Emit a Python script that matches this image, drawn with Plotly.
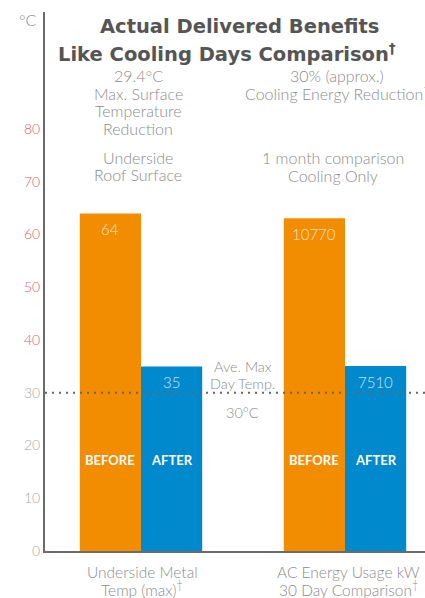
import plotly.graph_objects as go

# ---- data ----
categories = ["Underside Metal<br>Temp (max)<sup>†</sup>", "AC Energy Usage kW<br>30 Day Comparison<sup>†</sup>"]
phases = ["BEFORE", "AFTER"]
temp_values = [64, 35]          # °C, before / after
energy_values = [10770, 7510]   # kW, before / after
avg_max_day_temp = 30
y_ticks = [0, 10, 20, 30, 40, 50, 60, 70, 80]
red_ticks = [40, 50, 60, 70, 80]
title_lines = ["Actual Delivered Benefits", "Like Cooling Days Comparison<sup>†</sup>"]
temp_note = ["29.4°C", "Max. Surface", "Temperature", "Reduction"]
temp_sub = ["Underside", "Roof Surface"]
energy_note = ["30% (approx.)", "Cooling Energy Reduction<sup>†</sup>"]
energy_sub = ["1 month comparison", "Cooling Only"]
ref_note = ["Ave. Max", "Day Temp."]
ref_value = "30°C"

phase_colors = ["#F28C00", "#0089CC"]
gray = "#8c8c8c"
FONT = "Lato"

# layout geometry (pixels)
W, H = 425, 598
PX_LEFT, PX_TOP, PX_BOT = 45, 12, 551
PX_PER_UNIT = (551 - 129) / 80.0
X0_PX, X_UNIT_PX = 141, 204


def py2y(py):
    return (PX_BOT - py) / PX_PER_UNIT


def px2x(px):
    return (px - X0_PX) / X_UNIT_PX


def px2paper(px):
    return (px - PX_LEFT) / (W - PX_LEFT)


def py2paper(py):
    return (PX_BOT - py) / (PX_BOT - PX_TOP)


bar_w = 0.3
offsets = [-bar_w, 0.0]

fig = go.Figure()
for i, ph in enumerate(phases):
    fig.add_trace(go.Bar(x=[0], y=[temp_values[i]], width=bar_w, offset=offsets[i],
                         marker=dict(color=phase_colors[i], line=dict(width=0)),
                         name=ph, yaxis="y", showlegend=False, hoverinfo="skip"))
    fig.add_trace(go.Bar(x=[1], y=[energy_values[i]], width=bar_w, offset=offsets[i],
                         marker=dict(color=phase_colors[i], line=dict(width=0)),
                         name=ph, yaxis="y2", showlegend=False, hoverinfo="skip"))

annotations = []


def add_lines(lines, cx_px, first_py, step, size=16, color=gray, weight=300, family=FONT,
              xanchor="center"):
    for k, line in enumerate(lines):
        annotations.append(dict(x=px2paper(cx_px), xref="paper", xanchor=xanchor,
                                y=py2paper(first_py + k * step), yref="paper", yanchor="middle",
                                text=line, showarrow=False,
                                font=dict(family=family, size=size, color=color, weight=weight)))


for i, ph in enumerate(phases):
    cx = offsets[i] + bar_w / 2
    vfont = dict(family=FONT, size=15, weight=300, color="rgba(255,255,255,0.8)")
    annotations.append(dict(x=cx, y=temp_values[i], xref="x", yref="y", yshift=-16,
                            text=str(temp_values[i]), showarrow=False, font=vfont))
    annotations.append(dict(x=1 + cx, y=energy_values[i], xref="x", yref="y2", yshift=-16,
                            text=str(energy_values[i]), showarrow=False, font=vfont))
    for gx in (0, 1):
        annotations.append(dict(x=gx + cx, y=py2y(460), xref="x", yref="y", text="<b>" + ph + "</b>",
                                showarrow=False,
                                font=dict(family=FONT, size=13, color="white", weight=900)))

add_lines(ref_note, 243, 366, 17.5, size=14.5)
add_lines([ref_value], 243, 412, 18, size=14.5)
add_lines(temp_note, 138, 76, 17.5)
add_lines(temp_sub, 138, 157, 17)
add_lines(energy_note, 337, 75, 18)
add_lines(energy_sub, 333, 158, 17)
add_lines(categories[0].split("<br>"), 142, 572, 16.5, size=15.5)
add_lines(categories[1].split("<br>"), 348, 572, 16.5, size=15.5)
add_lines([title_lines[0]], 239, 26, 0, size=19.5, color="#555555", weight=700, family="DejaVu Sans")
add_lines([title_lines[1]], 227, 53, 0, size=19.5, color="#555555", weight=700, family="DejaVu Sans")
add_lines(["°C"], 39, 19, 0, size=16, xanchor="right")

ticktext = []
for t in y_ticks:
    c = "#e8586e" if t in red_ticks else "#a8a8a8"
    ticktext.append(f'<span style="color:{c}">{t}</span>')

fig.add_shape(type="line", xref="paper", yref="y", x0=0, x1=1,
              y0=avg_max_day_temp, y1=avg_max_day_temp,
              line=dict(color="#666666", width=2, dash="2px,5px"))

fig.update_layout(
    width=W, height=H,
    margin=dict(l=PX_LEFT, r=0, t=PX_TOP, b=H - PX_BOT, autoexpand=False),
    paper_bgcolor="white", plot_bgcolor="white",
    barmode="overlay",
    annotations=annotations,
    font=dict(family=FONT, color=gray),
    xaxis=dict(range=[px2x(PX_LEFT), px2x(W)], tickvals=[0, 1], showticklabels=False,
               showgrid=False, zeroline=False, showline=True, linecolor="#6b6b6b",
               linewidth=2, ticks="", automargin=False),
    yaxis=dict(range=[0, (PX_BOT - PX_TOP) / PX_PER_UNIT], tickvals=y_ticks, ticktext=ticktext,
               showgrid=False, zeroline=False, showline=True, linecolor="#6b6b6b",
               linewidth=2, ticks="", automargin=False,
               tickfont=dict(family=FONT, size=14, weight=300)),
    yaxis2=dict(overlaying="y", visible=False,
                range=[7510 - (PX_BOT - 366) / ((366 - 218.3) / 3260),
                       10770 + (218.3 - PX_TOP) / ((366 - 218.3) / 3260)]),
)

fig.write_html("out.html", config={"displayModeBar": False},
               post_script="document.body.style.margin='0';")
